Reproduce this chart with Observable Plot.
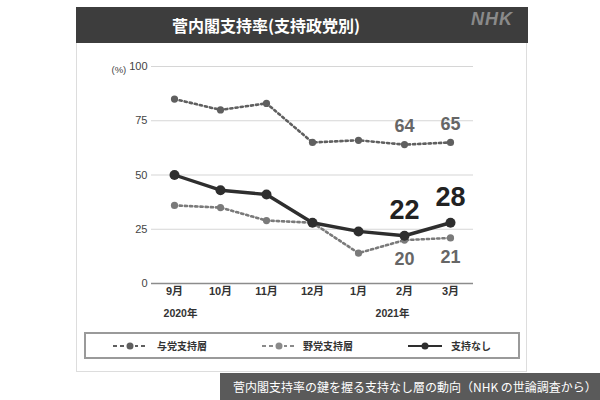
<!DOCTYPE html>
<html>
<head>
<meta charset="utf-8">
<script src="https://cdn.jsdelivr.net/npm/d3@7"></script>
<script src="https://cdn.jsdelivr.net/npm/@observablehq/plot@0.6"></script>
<style>
  html, body { margin: 0; padding: 0; background: #fff; }
  body { width: 600px; height: 400px; position: relative; overflow: hidden;
         font-family: "Liberation Sans", "Noto Sans CJK JP", sans-serif; }
  #card { position: absolute; left: 76px; top: 7px; width: 451px; height: 365px;
          border: 1px solid #ddd; background: #fff; box-sizing: border-box; }
  #titlebar { position: absolute; left: 76px; top: 7px; width: 452px; height: 36px; background: #3d3d3d; }
  #title { position: absolute; left: 172px; top: 7px; height: 36px; line-height: 36px;
           color: #fff; font-weight: bold; font-size: 16px; font-family: "Noto Sans CJK JP", sans-serif; white-space: nowrap; }
  #nhk { position: absolute; left: 471px; top: 9px; color: #8a8a8a; font-weight: bold; font-style: italic;
         font-size: 18px; letter-spacing: 1px; font-family: "Liberation Sans", sans-serif; }
  #chart { position: absolute; left: 0; top: 0; }
  #legend { position: absolute; left: 84px; top: 332px; width: 436px; height: 27px; box-sizing: border-box;
            border: 2px solid #9a9a9a; background: #fff; }
  .lg { position: absolute; top: 0; height: 23px; line-height: 23px; font-size: 10px; font-weight: bold; color: #333;
        font-family: "Noto Sans CJK JP", sans-serif; white-space: nowrap; }
  .lg svg { position: absolute; top: 0; }
  #caption { position: absolute; left: 220px; top: 373px; width: 380px; height: 27px; background: #5a5a5a;
             color: #fff; font-size: 12px; line-height: 27px; padding-left: 13px; box-sizing: border-box;
             font-family: "Noto Sans CJK JP", sans-serif; white-space: nowrap; }
</style>
</head>
<body>
<div id="card"></div>
<div id="titlebar"></div>
<div id="title">菅内閣支持率(支持政党別)</div>
<div id="nhk">NHK</div>
<div id="chart"></div>
<div id="legend"></div>
<div id="caption">菅内閣支持率の鍵を握る支持なし層の動向（NHK の世論調査から）</div>
<script>
const months = ["9月", "10月", "11月", "12月", "1月", "2月", "3月"];
const ruling = [85, 80, 83, 65, 66, 64, 65];       // 与党支持層
const opposition = [36, 35, 29, 28, 14, 20, 21];   // 野党支持層
const noParty = [50, 43, 41, 28, 24, 22, 28];      // 支持なし
const yTicks = [0, 25, 50, 75, 100];
const yearMonths = ["9月", "2月"];
const yearTexts = ["2020年", "2021年"];
const labelIdx = [5, 6];
const seriesNames = ["与党支持層", "野党支持層", "支持なし"];

const rows = (vals) => months.map((m, i) => ({month: m, value: vals[i]}));
const rRows = rows(ruling), oRows = rows(opposition), nRows = rows(noParty);
const lab = (rs) => labelIdx.map(i => rs[i]);
const years = yearMonths.map((m, i) => ({month: m, text: yearTexts[i], base: yTicks[0]}));

const cRuling = "#5f5f5f", cOpp = "#7a7a7a", cNone = "#2e2e2e";
const numFont = "Liberation Sans, Arial, sans-serif";

const chart = Plot.plot({
  width: 600, height: 400,
  marginLeft: 151, marginRight: 127, marginTop: 66, marginBottom: 117,
  style: {background: "transparent", fontFamily: "Liberation Sans, Noto Sans CJK JP, sans-serif", color: "#333"},
  x: {type: "point", domain: months, padding: 0.5},
  y: {domain: [0, 100]},
  marks: [
    Plot.gridY(yTicks, {stroke: "#d6d6d6", strokeOpacity: 1, strokeWidth: 1.2}),
    Plot.ruleY([0], {stroke: "#8c8c8c", strokeWidth: 1.5}),
    Plot.axisY({ticks: yTicks, tickSize: 0, tickPadding: 4, fontSize: 11, label: null, fill: "#444"}),
    Plot.axisX({tickSize: 0, tickPadding: 4, fontSize: 11, fontWeight: "bold", label: null, fill: "#333"}),
    Plot.text(["(%)"], {text: d => d, frameAnchor: "top-left", dx: -40, fontSize: 9.5, fill: "#444", letterSpacing: "1px"}),
    Plot.text(years, {x: "month", y: "base", text: "text", dy: 30, fontSize: 10.5, fontWeight: "bold", fill: "#333"}),
    Plot.line(rRows, {x: "month", y: "value", stroke: cRuling, strokeWidth: 2.6, strokeDasharray: "2.2,3"}),
    Plot.dot(rRows, {x: "month", y: "value", r: 3.6, fill: cRuling}),
    Plot.line(oRows, {x: "month", y: "value", stroke: cOpp, strokeWidth: 2.6, strokeDasharray: "2.2,3"}),
    Plot.dot(oRows, {x: "month", y: "value", r: 3.6, fill: cOpp}),
    Plot.line(nRows, {x: "month", y: "value", stroke: cNone, strokeWidth: 3.4}),
    Plot.dot(nRows, {x: "month", y: "value", r: 5, fill: cNone}),
    Plot.text(lab(rRows), {x: "month", y: "value", text: "value", dy: -18, fontSize: 18, fontWeight: "bold", fill: "#666", fontFamily: numFont}),
    Plot.text(lab(oRows), {x: "month", y: "value", text: "value", dy: 19, fontSize: 18, fontWeight: "bold", fill: "#666", fontFamily: numFont}),
    Plot.text(lab(nRows), {x: "month", y: "value", text: "value", dy: -25, fontSize: 27, fontWeight: "bold", fill: "#222", fontFamily: numFont})
  ]
});
document.getElementById("chart").appendChild(chart);
// nudge year labels horizontally as in the reference
d3.select(chart).selectAll("text").filter(function() { return this.textContent === "2021年"; }).attr("dx", -12);
d3.select(chart).selectAll("text").filter(function() { return this.textContent === "2020年"; }).attr("dx", 6);

// Legend
const legend = document.getElementById("legend");
const items = [
  {name: seriesNames[0], color: cRuling, dash: true, sx: 27, tx: 71},
  {name: seriesNames[1], color: "#8a8a8a", dash: true, sx: 176, tx: 217},
  {name: seriesNames[2], color: cNone, dash: false, sx: 322, tx: 365}
];
items.forEach(it => {
  const w = 34;
  const s = d3.create("svg").attr("width", w).attr("height", 23)
    .style("left", it.sx + "px").style("position", "absolute");
  s.append("line").attr("x1", 0).attr("x2", w).attr("y1", 12).attr("y2", 12)
    .attr("stroke", it.color).attr("stroke-width", it.dash ? 1.8 : 2)
    .attr("stroke-dasharray", it.dash ? "4,3" : null);
  if (it.dash) s.append("rect").attr("x", 12).attr("y", 8).attr("width", 10).attr("height", 8).attr("fill", "#fff");
  s.append("circle").attr("cx", w / 2).attr("cy", 12).attr("r", 3.5).attr("fill", it.color);
  const wrap = document.createElement("div");
  wrap.className = "lg";
  wrap.style.left = "0px"; wrap.style.width = "100%";
  wrap.appendChild(s.node());
  const t = document.createElement("span");
  t.textContent = it.name;
  t.style.position = "absolute"; t.style.left = it.tx + "px";
  wrap.appendChild(t);
  legend.appendChild(wrap);
});
</script>
</body>
</html>
